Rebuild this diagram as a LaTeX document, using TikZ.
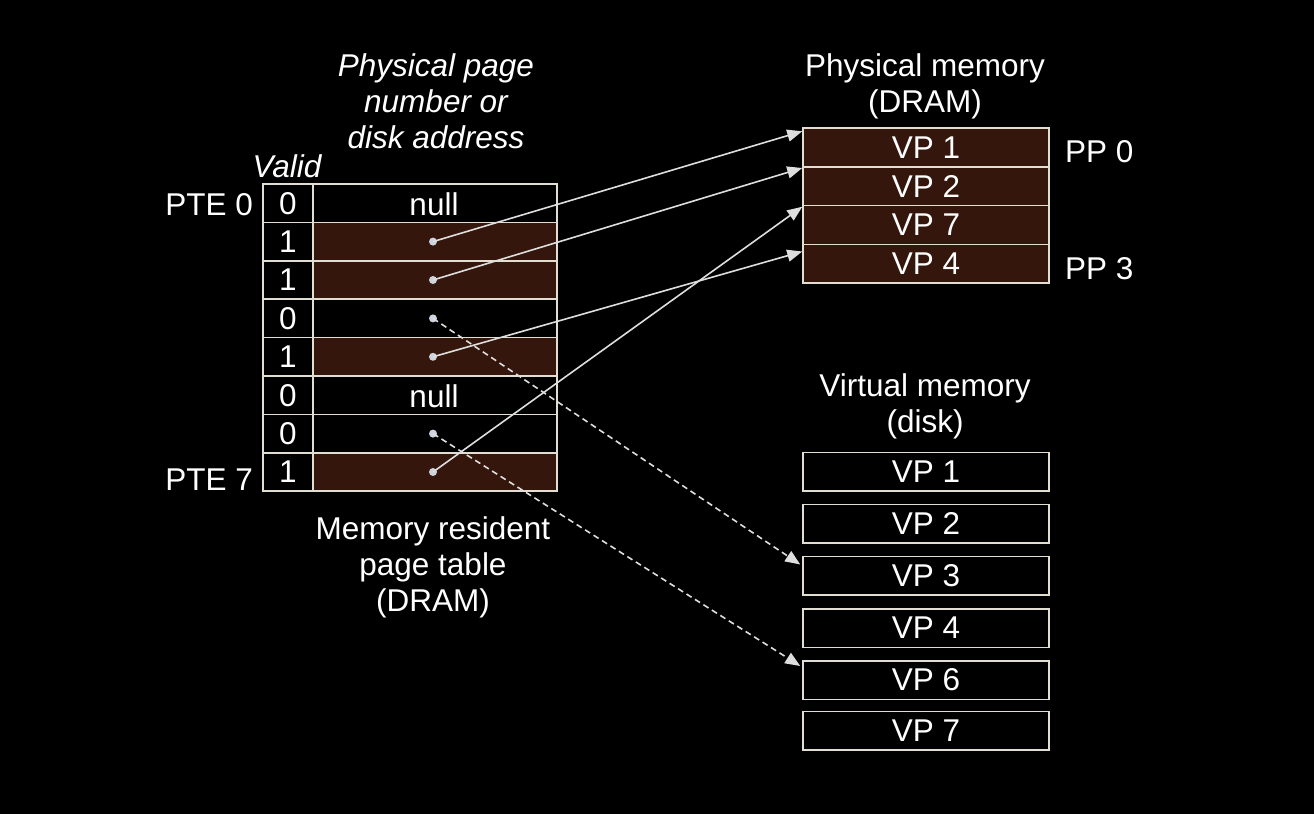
\documentclass[tikz,border=0pt]{standalone}
\usepackage{fontspec}
\setmainfont{Liberation Sans}
\usetikzlibrary{arrows.meta,calc}
\definecolor{brn}{RGB}{52,22,12}
\definecolor{edge}{RGB}{226,222,210}
\definecolor{ptrc}{RGB}{222,222,222}
\definecolor{dotc}{RGB}{205,212,222}
\begin{document}
\begin{tikzpicture}[x=1pt,y=-1pt,
  txt/.style={text=white,font=\fontsize{31.5}{36}\selectfont,inner sep=0pt,align=center},
  itxt/.style={txt,font=\fontsize{31.5}{36}\selectfont\itshape},
  cell/.style={draw=edge,line width=1.5pt,rectangle,minimum height=38.4pt,inner sep=0pt,text=white,font=\fontsize{31.5}{36}\selectfont},
  vcell/.style={cell,minimum width=50pt},
  pcell/.style={cell,minimum width=244pt},
  mcell/.style={cell,minimum width=246pt,minimum height=38.75pt},
  dcell/.style={cell,minimum width=246pt,minimum height=38.5pt,fill=black},
  ptr/.style={draw=ptrc,line width=1.6pt,-{Triangle[length=15pt,width=12pt,fill=ptrc]}},
  dptr/.style={ptr,dash pattern=on 6pt off 4pt},
  pdot/.style={circle,fill=dotc,inner sep=0pt,minimum size=8pt}
]
\fill[black] (0,0) rectangle (1314,814);
\useasboundingbox (0,0) rectangle (1314,814);

% page table
\foreach \i/\v/\f in {0/0/black,1/1/brn,2/1/brn,3/0/black,4/1/brn,5/0/black,6/0/black,7/1/brn}{
  \node[vcell,fill=black] (v\i) at (288,{203.2+38.4*\i}) {\v};
  \node[pcell,fill=\f] (p\i) at (435,{203.2+38.4*\i}) {};
}
\node[txt,anchor=base] (n0) at (434,215) {null};
\node[txt,anchor=base] (n5) at ($(434,215)+(0,5*38.4)$) {null};
\foreach \i in {1,2,3,4,6,7}{
  \node[pdot] (d\i) at (433,{203.2+38.4*\i}) {};
}

\node[txt,anchor=base east] (pte0) at (253,215) {PTE 0};
\node[txt,anchor=base east] (pte7) at (253,490) {PTE 7};
\node[itxt,anchor=base] (valid) at (287,177) {Valid};
\node[itxt,anchor=base] (ppn) at (436,148) {Physical page\\number or\\disk address};
\node[txt,anchor=base] (mrpt) at (433,611) {Memory resident\\page table\\(DRAM)};

% physical memory
\foreach \k/\t in {1/VP 1,2/VP 2,3/VP 7,4/VP 4}{
  \node[mcell,fill=brn] (pm\k) at (926,{128+38.75*(\k-0.5)}) {\t};
}
\node[txt,anchor=base] (pmt) at (925,112) {Physical memory\\(DRAM)};
\node[txt,anchor=base west] (pp0) at (1065,162) {PP 0};
\node[txt,anchor=base west] (pp3) at (1065,279) {PP 3};

% virtual memory
\foreach \k/\t/\y in {1/VP 1/471.5,2/VP 2/523.5,3/VP 3/575.5,4/VP 4/628,6/VP 6/680,7/VP 7/730.5}{
  \node[dcell] (vm\k) at (926,\y) {\t};
}
\node[txt,anchor=base] (vmt) at (925,432) {Virtual memory\\(disk)};

% pointers
\coordinate (t1) at ($(pm1.north west)+(0,4)$);
\coordinate (t2) at ($(pm2.north west)+(0,2)$);
\coordinate (t3) at ($(pm3.north west)+(0,2)$);
\coordinate (t4) at ($(pm4.north west)+(0,8)$);
\coordinate (t5) at ($(vm3.north west)+(-2,9)$);
\coordinate (t6) at ($(vm6.north west)+(-2,6)$);
\draw[ptr] (d1.center) -- (t1);
\draw[ptr] (d2.center) -- (t2);
\draw[ptr] (d4.center) -- (t4);
\draw[ptr] (d7.center) -- (t3);
\draw[dptr] (d3.center) -- (t5);
\draw[dptr] (d6.center) -- (t6);
\end{tikzpicture}
\end{document}
